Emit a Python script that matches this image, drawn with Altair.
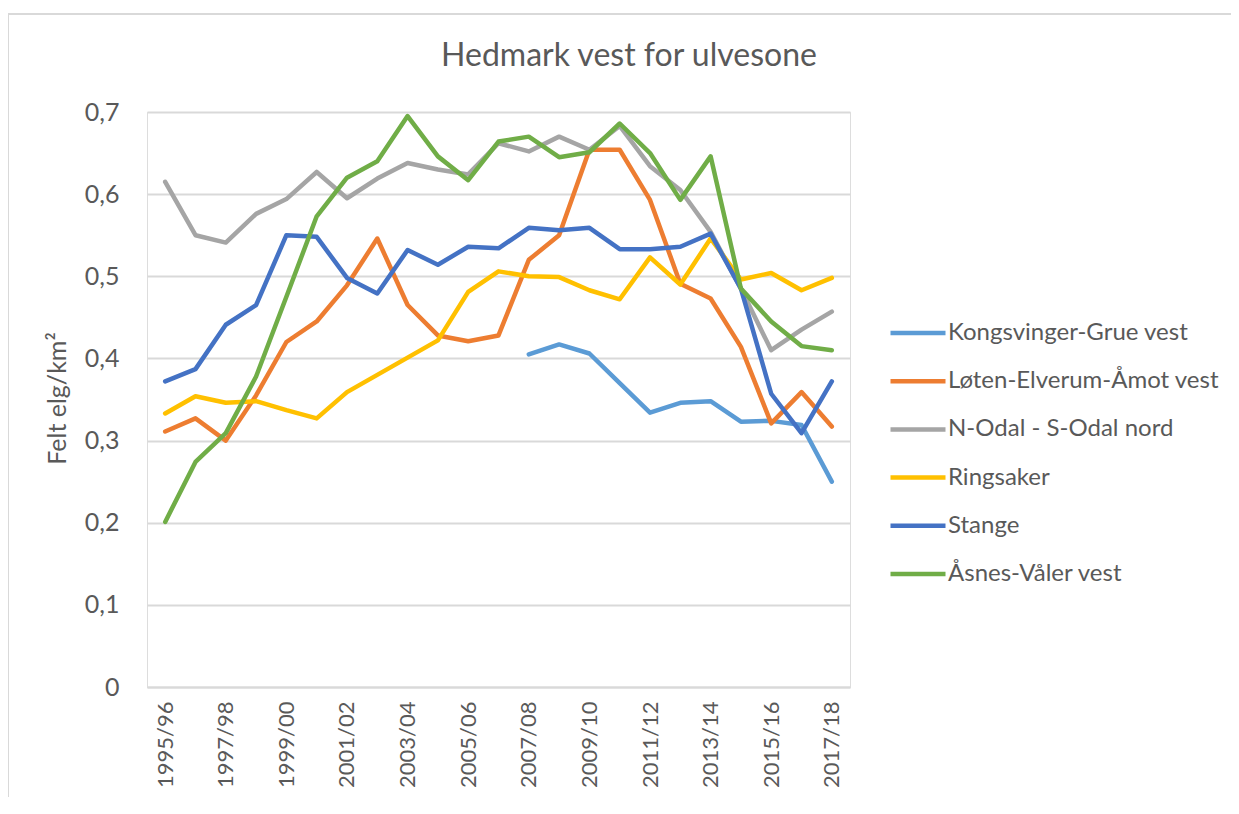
import altair as alt
import pandas as pd

seasons = ["1995/96", "1996/97", "1997/98", "1998/99", "1999/00", "2000/01",
           "2001/02", "2002/03", "2003/04", "2004/05", "2005/06", "2006/07",
           "2007/08", "2008/09", "2009/10", "2010/11", "2011/12", "2012/13",
           "2013/14", "2014/15", "2015/16", "2016/17", "2017/18"]
tick_labels = ["1995/96", "1997/98", "1999/00", "2001/02", "2003/04", "2005/06",
               "2007/08", "2009/10", "2011/12", "2013/14", "2015/16", "2017/18"]

series_names = ["Kongsvinger-Grue vest", "Løten-Elverum-Åmot vest",
                "N-Odal - S-Odal nord", "Ringsaker", "Stange", "Åsnes-Våler vest"]
series_colors = ["#5B9BD5", "#ED7D31", "#A5A5A5", "#FFC000", "#4472C4", "#70AD47"]

kongsvinger = [None, None, None, None, None, None, None, None, None, None, None, None,
               0.405, 0.417, 0.406, 0.370, 0.334, 0.346, 0.348, 0.323, 0.324, 0.319, 0.250]
loten = [0.311, 0.327, 0.300, 0.355, 0.420, 0.445, 0.489, 0.546, 0.465, 0.428, 0.421, 0.428,
         0.520, 0.550, 0.654, 0.654, 0.593, 0.491, 0.473, 0.414, 0.321, 0.359, 0.317]
nodal = [0.615, 0.550, 0.541, 0.576, 0.594, 0.627, 0.595, 0.619, 0.638, 0.630, 0.624, 0.662,
         0.652, 0.670, 0.654, 0.683, 0.634, 0.605, 0.554, 0.485, 0.410, 0.435, 0.457]
ringsaker = [0.333, 0.354, 0.346, 0.348, 0.337, 0.327, 0.359, 0.380, 0.401, 0.422, 0.481, 0.506,
             0.500, 0.499, 0.483, 0.472, 0.523, 0.490, 0.546, 0.496, 0.504, 0.483, 0.498]
stange = [0.372, 0.387, 0.441, 0.465, 0.550, 0.548, 0.498, 0.479, 0.532, 0.514, 0.536, 0.534,
          0.559, 0.556, 0.559, 0.533, 0.533, 0.536, 0.552, 0.485, 0.357, 0.309, 0.372]
asnes = [0.201, 0.274, 0.309, 0.378, 0.475, 0.573, 0.620, 0.640, 0.695, 0.646, 0.617, 0.664,
         0.670, 0.645, 0.651, 0.686, 0.650, 0.593, 0.646, 0.485, 0.445, 0.415, 0.410]

chart_title = "Hedmark vest for ulvesone"

all_series = [kongsvinger, loten, nodal, ringsaker, stange, asnes]

rows = []
for name, vals in zip(series_names, all_series):
    for s, v in zip(seasons, vals):
        rows.append({"season": s, "serie": name, "value": v})
df = pd.DataFrame(rows)

FONT = "Lato"
TXT = "#595959"
W, H = 703, 575

lines = alt.Chart(df).mark_line(strokeWidth=4.5, strokeCap="round", strokeJoin="round").encode(
    x=alt.X("season:O", sort=seasons,
            scale=alt.Scale(domain=seasons, padding=0.6),
            axis=alt.Axis(title=None, values=tick_labels, labelAngle=-90, labelAlign="right",
                          labelBaseline="middle", labelPadding=14, labelFontSize=22,
                          labelColor=TXT, labelFont=FONT, ticks=False,
                          domainColor="#d9d9d9", domainWidth=2, grid=False)),
    y=alt.Y("value:Q",
            scale=alt.Scale(domain=[0, 0.7], nice=False),
            axis=alt.Axis(title="Felt elg/km²", values=[0, 0.1, 0.2, 0.3, 0.4, 0.5, 0.6, 0.7],
                          format=",.1~f", labelExpr="replace(datum.label, '.', ',')",
                          labelFontSize=25, labelColor=TXT, labelFont=FONT, labelPadding=28,
                          ticks=False, domain=False, gridColor="#d9d9d9", gridWidth=2,
                          titleFontSize=25, titleFont=FONT, titleColor=TXT,
                          titleFontWeight="normal", titleX=-90, titleY=286,
                          titleAngle=-90, titleBaseline="middle", titleAlign="center")),
    color=alt.Color("serie:N", sort=series_names,
                    scale=alt.Scale(domain=series_names, range=series_colors),
                    legend=alt.Legend(title=None, orient="none", legendX=741, legendY=191,
                                      symbolType="stroke", symbolSize=3025,
                                      symbolStrokeWidth=4.5, labelFontSize=24,
                                      labelFont=FONT, labelColor=TXT, labelOffset=0,
                                      rowPadding=6.2, padding=0, labelLimit=400)),
    order=alt.Order("serie_order:Q"),
).transform_calculate(
    serie_order="indexof(" + str(series_names) + ", datum.serie)"
)

one = pd.DataFrame({"k": [0]})
border = alt.Chart(one).mark_rule(color="#d9d9d9", strokeWidth=2).encode(
    x=alt.value(-139), x2=alt.value(-139), y=alt.value(-98), y2=alt.value(H + 200)
)
border_top = alt.Chart(one).mark_rule(color="#d9d9d9", strokeWidth=2).encode(
    x=alt.value(-139), x2=alt.value(W + 400), y=alt.value(-98), y2=alt.value(-98)
)
title = alt.Chart(one).mark_text(font=FONT, fontSize=32, color=TXT, align="center",
                                 baseline="middle").encode(
    x=alt.value(482), y=alt.value(-56), text=alt.value(chart_title)
)

chart = alt.layer(border, border_top, lines, title).properties(
    width=W, height=H,
    autosize=alt.AutoSizeParams(type="none"),
    padding={"left": 139, "top": 104, "right": 381, "bottom": 110},
).configure_view(stroke=None).configure(background="white")

chart.save("out.html", embed_options={"renderer": "svg", "actions": False})
